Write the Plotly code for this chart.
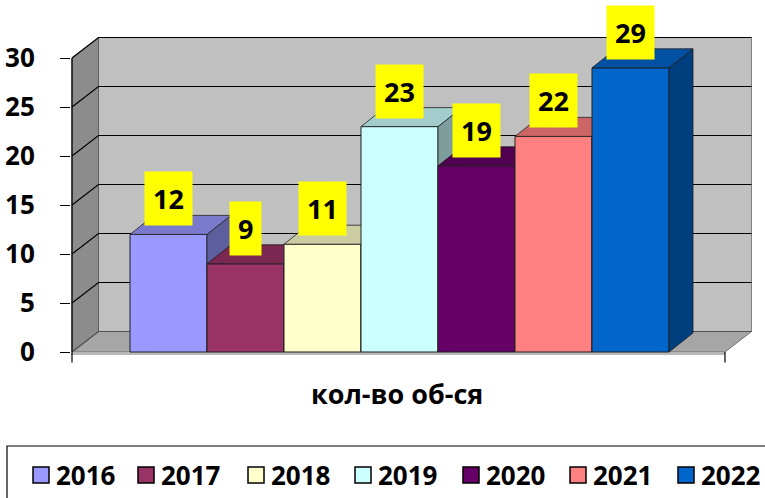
import plotly.graph_objects as go

# ---- data -------------------------------------------------------------
years = ["2016", "2017", "2018", "2019", "2020", "2021", "2022"]
counts = [12, 9, 11, 23, 19, 22, 29]
colors = ["#9999FF", "#993366", "#FFFFCC", "#CCFFFF", "#660066", "#FF8080", "#0066CC"]
y_ticks = [0, 5, 10, 15, 20, 25, 30]
x_title = "кол-во об-ся"

# ---- view geometry ------------------------------------------------------
W, H = 765, 498
M_L, M_R, M_T, M_B = 71, 3, 30, 134
PX_PER_CAT = 77.0          # one category slot in pixels
PX_PER_UNIT = 9.8          # one value unit in pixels
ZERO_PX = 352.0            # pixel row of value 0
FIRST_BAR_LEFT_PX = 130.0

plot_w = W - M_L - M_R
plot_h = H - M_T - M_B
x_lo = -0.5 - (FIRST_BAR_LEFT_PX - M_L) / PX_PER_CAT
x_hi = x_lo + plot_w / PX_PER_CAT
y_lo = -((H - M_B) - ZERO_PX) / PX_PER_UNIT
y_hi = y_lo + plot_h / PX_PER_UNIT

# depth offsets for the pseudo-3D look (data units)
wall_dx, wall_dy = 26.5 / PX_PER_CAT, 20.5 / PX_PER_UNIT
bar_dx, bar_dy = 24.0 / PX_PER_CAT, 19.0 / PX_PER_UNIT

axis_x = x_lo + 1.0 / PX_PER_CAT            # vertical value axis
floor_right = x_lo + (725 - M_L) / PX_PER_CAT
y_max = max(y_ticks)

FONT = "Open Sans"


def shade(hex_color, f):
    h = hex_color.lstrip("#")
    r, g, b = (int(h[k:k + 2], 16) for k in (0, 2, 4))
    return "rgb({},{},{})".format(int(r * f), int(g * f), int(b * f))


def poly(xs, ys, fill, line_color, line_w, xa="x", ya="y"):
    return go.Scatter(
        x=list(xs) + [xs[0]], y=list(ys) + [ys[0]], mode="lines", fill="toself",
        fillcolor=fill, line=dict(color=line_color, width=line_w),
        xaxis=xa, yaxis=ya, showlegend=False, hoverinfo="skip",
    )


def seg(xs, ys, color, width, xa="x", ya="y"):
    return go.Scatter(
        x=xs, y=ys, mode="lines", line=dict(color=color, width=width),
        xaxis=xa, yaxis=ya, showlegend=False, hoverinfo="skip",
    )


fig = go.Figure()

# ---- walls and floor ---------------------------------------------------
bx0, bx1 = axis_x + wall_dx, floor_right + wall_dx
fig.add_trace(poly([bx0, bx1, bx1, bx0], [wall_dy, wall_dy, y_max + wall_dy, y_max + wall_dy],
                   "#C0C0C0", "#808080", 1))
fig.add_trace(poly([axis_x, axis_x, bx0, bx0], [0, y_max, y_max + wall_dy, wall_dy],
                   "#8C8C8C", "#606060", 1))
fig.add_trace(poly([axis_x, floor_right, bx1, bx0], [0, 0, wall_dy, wall_dy],
                   "#A6A6A6", "#707070", 1))

# gridlines running over the side wall and the back wall
for t in y_ticks:
    fig.add_trace(seg([axis_x, bx0, bx1], [t, t + wall_dy, t + wall_dy],
                      "#000000" if t > 0 else "#505050", 1.2))

# axes lines and end ticks of the category axis
fig.add_trace(seg([x_lo, floor_right], [-0.2, -0.2], "#B8B8B8", 2))
fig.add_trace(seg([axis_x, axis_x], [-10.5 / PX_PER_UNIT, y_max], "#000000", 1.2))
fig.add_trace(seg([floor_right, floor_right], [0, -10.5 / PX_PER_UNIT], "#000000", 1.2))

# ---- columns: one overlaid layer per year so later columns sit in front
layout_axes = {}
for i, (yr, v, c) in enumerate(zip(years, counts, colors)):
    k = i + 2
    xa, ya = "x{}".format(k), "y{}".format(k)
    layout_axes["xaxis{}".format(k)] = dict(overlaying="x", anchor=ya, range=[x_lo, x_hi],
                                            visible=False, fixedrange=True)
    layout_axes["yaxis{}".format(k)] = dict(overlaying="y", anchor=xa, range=[y_lo, y_hi],
                                            visible=False, fixedrange=True)
    fig.add_trace(go.Bar(
        x=[i], y=[v], width=1.0, name=yr, xaxis=xa, yaxis=ya,
        marker=dict(color=c, line=dict(color="#202020", width=1)),
        showlegend=False, hoverinfo="skip",
    ))
    xr = i + 0.5
    fig.add_trace(poly([xr, xr, xr + bar_dx, xr + bar_dx], [0, v, v + bar_dy, bar_dy],
                       shade(c, 0.62), "#202020", 0.8, xa, ya))
    fig.add_trace(poly([i - 0.5, xr, xr + bar_dx, i - 0.5 + bar_dx], [v, v, v + bar_dy, v + bar_dy],
                       shade(c, 0.8), "#202020", 0.8, xa, ya))

BOLD = dict(family=FONT, size=27, color="#000000", weight="bold")

# ---- value labels -------------------------------------------------------
annotations = []
for i, v in enumerate(counts):
    annotations.append(dict(
        x=i, y=v, xref="x", yref="y", text=str(v), showarrow=False,
        yanchor="bottom", xanchor="center", yshift=8, bgcolor="#FFFF00", borderpad=8,
        font=BOLD,
    ))

# category axis title
def px_to_paper(px, py):
    return (px - M_L) / plot_w, ((H - M_B) - py) / plot_h

tx, ty = px_to_paper(397, 393)
annotations.append(dict(x=tx, y=ty, xref="paper", yref="paper", text=x_title,
                        showarrow=False, xanchor="center", yanchor="middle",
                        font=BOLD))

# ---- legend box -----------------------------------------------------------
shapes = []
lx0, ly0 = px_to_paper(7, 446)
lx1, ly1 = px_to_paper(790, 520)
shapes.append(dict(type="rect", xref="paper", yref="paper", x0=lx0, y0=ly1, x1=lx1, y1=ly0,
                   line=dict(color="#000000", width=1.2), fillcolor="rgba(0,0,0,0)"))
swatch_left = [33, 138, 248, 355, 463, 570, 678]
for yr, c, sx in zip(years, colors, swatch_left):
    ax0, ay0 = px_to_paper(sx, 467)
    ax1, ay1 = px_to_paper(sx + 16, 483)
    shapes.append(dict(type="rect", xref="paper", yref="paper", x0=ax0, y0=ay1, x1=ax1, y1=ay0,
                       fillcolor=c, line=dict(color="#000000", width=1.5)))
    txx, tyy = px_to_paper(sx + 21, 475)
    annotations.append(dict(x=txx, y=tyy, xref="paper", yref="paper", text=yr,
                            showarrow=False, xanchor="left", yanchor="middle",
                            font=dict(family=FONT, size=26, color="#000000", weight="bold")))

fig.update_layout(
    width=W, height=H, autosize=False,
    margin=dict(l=M_L, r=M_R, t=M_T, b=M_B, pad=0),
    paper_bgcolor="#FFFFFF", plot_bgcolor="rgba(0,0,0,0)",
    showlegend=False,
    xaxis=dict(range=[x_lo, x_hi], visible=False, fixedrange=True),
    yaxis=dict(range=[y_lo, y_hi], tickvals=y_ticks, ticks="outside", ticklen=10,
               tickcolor="#000000", tickwidth=1.2, showgrid=False, zeroline=False,
               showline=False, ticklabelstandoff=20, fixedrange=True,
               tickfont=dict(family=FONT, size=26, color="#000000", weight="bold")),
    annotations=annotations,
    shapes=shapes,
    **layout_axes,
)

fig.write_html("out.html")
